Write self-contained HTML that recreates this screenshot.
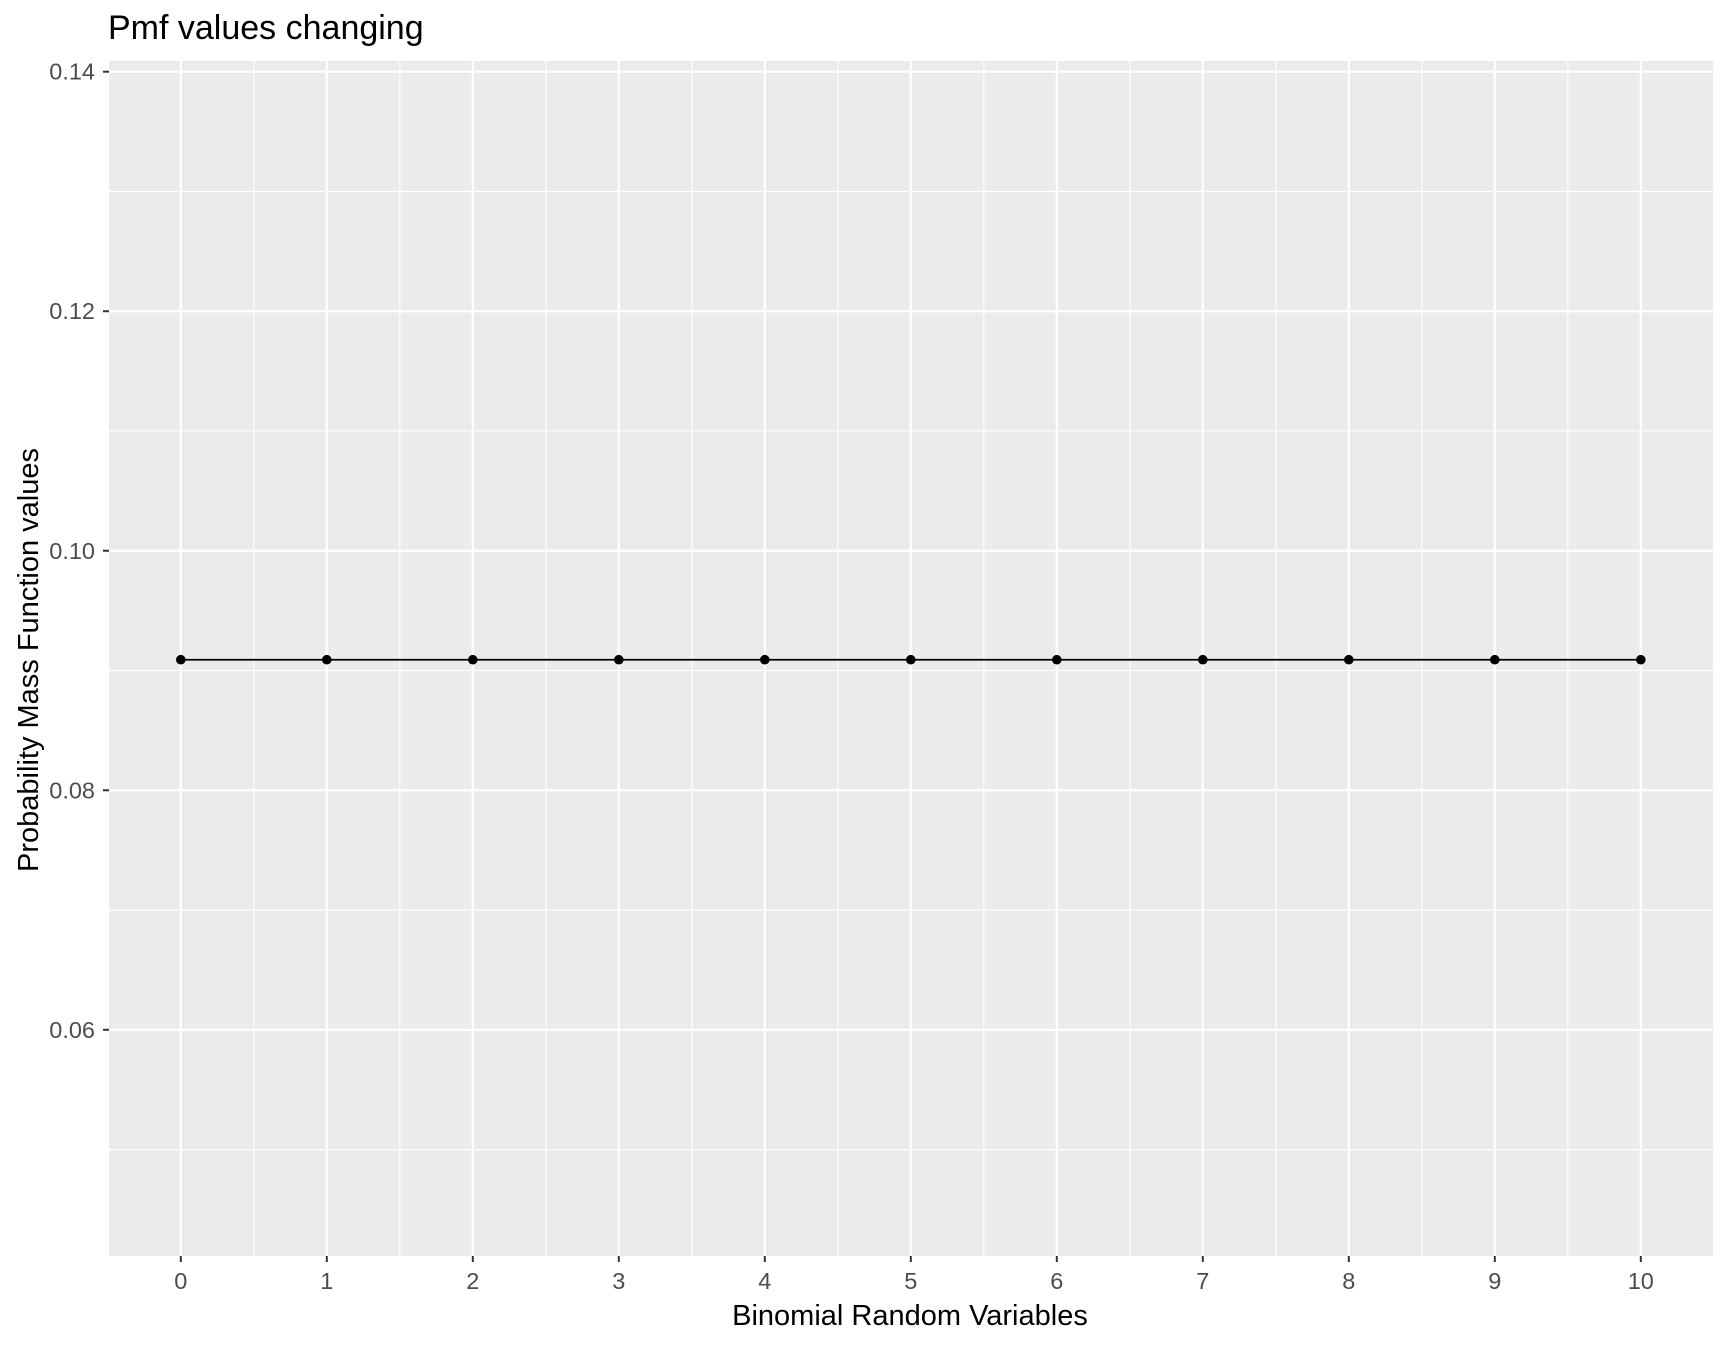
<!DOCTYPE html>
<html><head><meta charset="utf-8"><style>
body{margin:0;background:#fff;font-family:"Liberation Sans",Arial,sans-serif}
svg text{font-family:"Liberation Sans",Arial,sans-serif}
</style></head><body>
<svg id="c" width="1728" height="1344" xmlns="http://www.w3.org/2000/svg">
<rect x="0" y="0" width="1728" height="1344" fill="#fff"/>
<text x="108" y="39" font-size="34" fill="#000">Pmf values changing</text>
<rect x="109" y="61" width="1604" height="1195" fill="#ebebeb"/>
<g id="grid"></g><g id="axes"></g><g id="series"></g>
<text x="910" y="1325" font-size="29" text-anchor="middle" fill="#000">Binomial Random Variables</text>
<text transform="translate(38,660) rotate(-90)" font-size="29" text-anchor="middle" fill="#000">Probability Mass Function values</text>
</svg>
<script>
const xValues=[0,1,2,3,4,5,6,7,8,9,10];
const pmfValues=[0.0909,0.0909,0.0909,0.0909,0.0909,0.0909,0.0909,0.0909,0.0909,0.0909,0.0909];
const yTicks=[0.06,0.08,0.10,0.12,0.14];
const yTickLabels=["0.06","0.08","0.10","0.12","0.14"];
const xTicks=[0,1,2,3,4,5,6,7,8,9,10];
const NS="http://www.w3.org/2000/svg";
const xs=v=>180.8+v*146.0;
const ys=v=>71.7+(0.14-v)*(1029.8-71.7)/0.08;
function mk(tag,at,parent){const e=document.createElementNS(NS,tag);for(const k in at)e.setAttribute(k,at[k]);document.getElementById(parent).appendChild(e);return e;}
const grid="grid",axes="axes",ser="series";
for(let i=0;i<yTicks.length;i++){const v=yTicks[i]-0.01;const y=ys(v);if(y>61&&y<1256){const l=mk('line',{x1:109,x2:1713,y1:y,y2:y,stroke:'#fff','stroke-width':1.1},grid);

}}
{const y=ys(0.05);const l=mk('line',{x1:109,x2:1713,y1:y,y2:y,stroke:'#fff','stroke-width':1.1},grid);

}
for(let i=0;i<xTicks.length-1;i++){const x=xs(xTicks[i]+0.5);const l=mk('line',{x1:x,x2:x,y1:61,y2:1256,stroke:'#fff','stroke-width':1.1},grid);

}
yTicks.forEach((v,i)=>{const y=ys(v);
const l=mk('line',{x1:109,x2:1713,y1:y,y2:y,stroke:'#fff','stroke-width':2.2},grid);


const t=mk('line',{x1:103,x2:109,y1:y,y2:y,stroke:'#333','stroke-width':2},axes);


const tx=mk('text',{x:95,y:y+8,'font-size':23.5,'text-anchor':'end',fill:'#4d4d4d'},axes);tx.textContent=yTickLabels[i];

});
xTicks.forEach(v=>{const x=xs(v);
const l=mk('line',{x1:x,x2:x,y1:61,y2:1256,stroke:'#fff','stroke-width':2.2},grid);


const t=mk('line',{x1:x,x2:x,y1:1256,y2:1262,stroke:'#333','stroke-width':2},axes);


const tx=mk('text',{x:x,y:1289,'font-size':23.5,'text-anchor':'middle',fill:'#4d4d4d'},axes);tx.textContent=String(v);

});
const pts=xValues.map((v,i)=>xs(v)+','+ys(pmfValues[i])).join(' ');
const pl=mk('polyline',{points:pts,fill:'none',stroke:'#000','stroke-width':1.8},ser);


xValues.forEach((v,i)=>{const c=mk('circle',{cx:xs(v),cy:ys(pmfValues[i]),r:4.8,fill:'#000'},ser);

});
</script>
</body></html>
